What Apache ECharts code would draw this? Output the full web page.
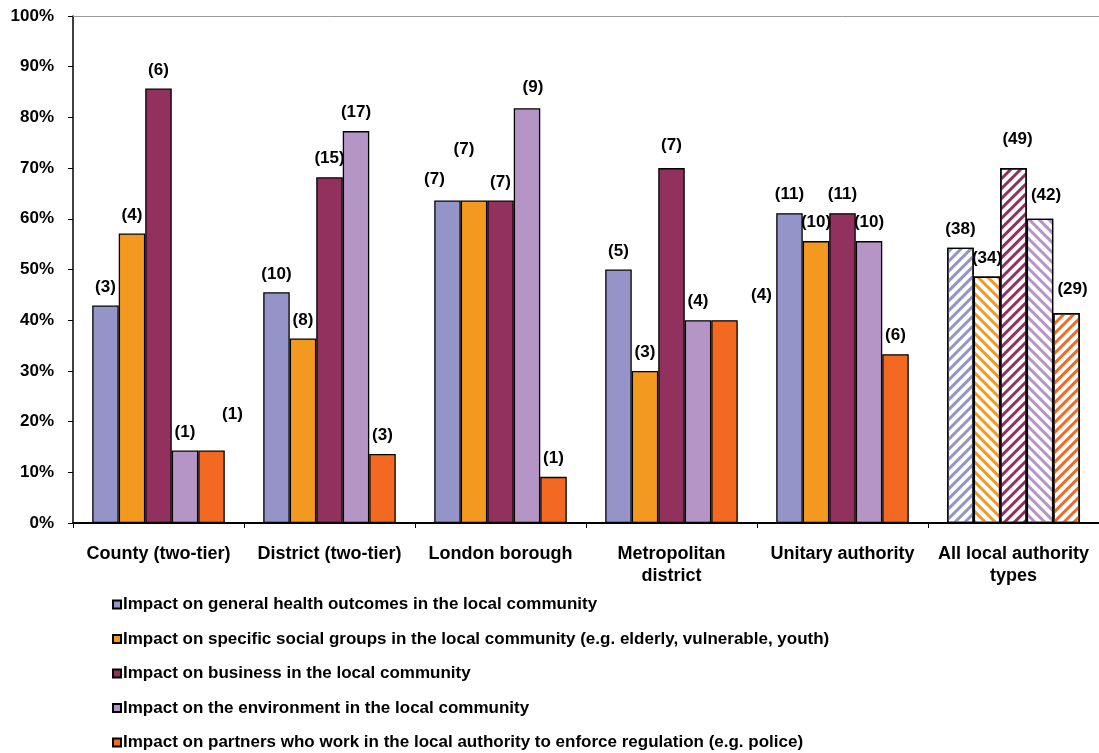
<!DOCTYPE html>
<html>
<head>
<meta charset="utf-8">
<script src="https://cdn.jsdelivr.net/npm/echarts@6/dist/echarts.min.js"></script>
<style>
  html, body { margin: 0; padding: 0; background: #fff; }
  #chart { width: 1099px; height: 753px; }
</style>
</head>
<body>
<div id="chart"></div>
<script>
  // categories and tick labels
  const categories = ['County (two-tier)', 'District (two-tier)', 'London borough', 'Metropolitan\ndistrict', 'Unitary authority', 'All local authority\ntypes'];
  const seriesNames = [
    'Impact on general health outcomes in the local community',
    'Impact on specific social groups in the local community (e.g. elderly, vulnerable, youth)',
    'Impact on business in the local community',
    'Impact on the environment in the local community',
    'Impact on partners who work in the local authority to enforce regulation (e.g. police)'
  ];
  const yTicks = [0, 10, 20, 30, 40, 50, 60, 70, 80, 90, 100];

  // percentages
  const health = [42.9, 45.5, 63.6, 50.0, 61.1, 54.3];
  const social = [57.1, 36.4, 63.6, 30.0, 55.6, 48.6];
  const business = [85.7, 68.2, 63.6, 70.0, 61.1, 70.0];
  const environment = [14.3, 77.3, 81.8, 40.0, 55.6, 60.0];
  const partners = [14.3, 13.6, 9.1, 40.0, 33.3, 41.4];

  // number of authorities (shown in brackets)
  const healthN = [3, 10, 7, 5, 11, 38];
  const socialN = [4, 8, 7, 3, 10, 34];
  const businessN = [6, 15, 7, 7, 11, 49];
  const environmentN = [1, 17, 9, 4, 10, 42];
  const partnersN = [1, 3, 1, 4, 6, 29];

  const colors = ['#9494c8', '#f4991f', '#92305e', '#b595c6', '#f36921'];
  const hatchRot = [-Math.PI / 4, Math.PI / 4, -Math.PI / 4, Math.PI / 4, -Math.PI / 4];

  // label nudges, same as the original where Excel labels were moved by hand
  const labelShift = [
    [[0, 0], [0, 0], [-13, -3], [0, 0], [0, 0], [0, 0]],
    [[0, 0], [0, 0], [-10, -33], [0, 0], [0, 0], [0, 0]],
    [[0, 0], [0, 0], [0, 0], [0, -4], [0, 0], [4, -10]],
    [[0, 0], [0, 0], [6, -2], [0, 0], [0, 0], [6, -5]],
    [[21, -18], [0, 0], [0, 0], [37, -6], [0, 0], [6, -5]]
  ];

  const values = [health, social, business, environment, partners];
  const counts = [healthN, socialN, businessN, environmentN, partnersN];

  const chart = echarts.init(document.getElementById('chart'));

  const series = values.map(function (vals, s) {
    return {
      name: seriesNames[s],
      type: 'bar',
      barGap: 0,
      barCategoryGap: '22.5%',
      itemStyle: {
        color: colors[s],
        borderColor: '#000',
        borderWidth: 1.3
      },
      label: {
        show: true,
        position: 'top',
        distance: 10,
        color: '#000',
        fontSize: 17,
        fontWeight: 'bold',
        fontFamily: 'Liberation Sans',
        formatter: function (p) { return '(' + counts[s][p.dataIndex] + ')'; }
      },
      data: vals.map(function (v, i) {
        const item = {
          value: v,
          label: { offset: labelShift[s][i] }
        };
        if (i === vals.length - 1) {
          // "all types" bars are hatched
          item.itemStyle = {
            color: '#fff',
            decal: {
              symbol: 'rect',
              symbolSize: 1,
              color: colors[s],
              dashArrayX: [1, 0],
              dashArrayY: [3, 4],
              rotation: hatchRot[s]
            }
          };
        }
        return item;
      })
    };
  });

  const option = {
    animation: false,
    color: colors,
    textStyle: { fontFamily: 'Liberation Sans' },
    grid: { left: 73, right: 0, top: 16, bottom: 230, containLabel: false },
    legend: {
      orient: 'vertical',
      left: 112,
      top: 596,
      padding: 0,
      itemWidth: 8,
      itemHeight: 8,
      itemGap: 17.5,
      icon: 'rect',
      data: seriesNames,
      textStyle: {
        color: '#000',
        fontSize: 17,
        fontWeight: 'bold',
        fontFamily: 'Liberation Sans',
        lineHeight: 17,
        padding: [0, 0, 0, -3]
      }
    },
    xAxis: [{
      type: 'category',
      data: categories,
      axisLine: { lineStyle: { color: '#000', width: 2 } },
      axisTick: { show: true, inside: false, length: 5, lineStyle: { color: '#000', width: 1 } },
      axisLabel: {
        color: '#000',
        fontSize: 18,
        fontWeight: 'bold',
        fontFamily: 'Liberation Sans',
        lineHeight: 22,
        margin: 20,
        interval: 0
      }
    }, {
      type: 'category',
      position: 'top',
      data: categories,
      axisLine: { lineStyle: { color: '#999', width: 1 } },
      axisTick: { show: false },
      axisLabel: { show: false }
    }],
    yAxis: {
      type: 'value',
      min: yTicks[0],
      max: yTicks[yTicks.length - 1],
      interval: 10,
      splitLine: { show: false },
      axisLine: { show: true, lineStyle: { color: '#000', width: 1.5 } },
      axisTick: { show: true, length: 5, lineStyle: { color: '#000' } },
      axisLabel: {
        color: '#000',
        fontSize: 17,
        fontWeight: 'bold',
        fontFamily: 'Liberation Sans',
        margin: 19,
        formatter: '{value}%'
      }
    },
    series: series
  };

  chart.setOption(option);
</script>
</body>
</html>
